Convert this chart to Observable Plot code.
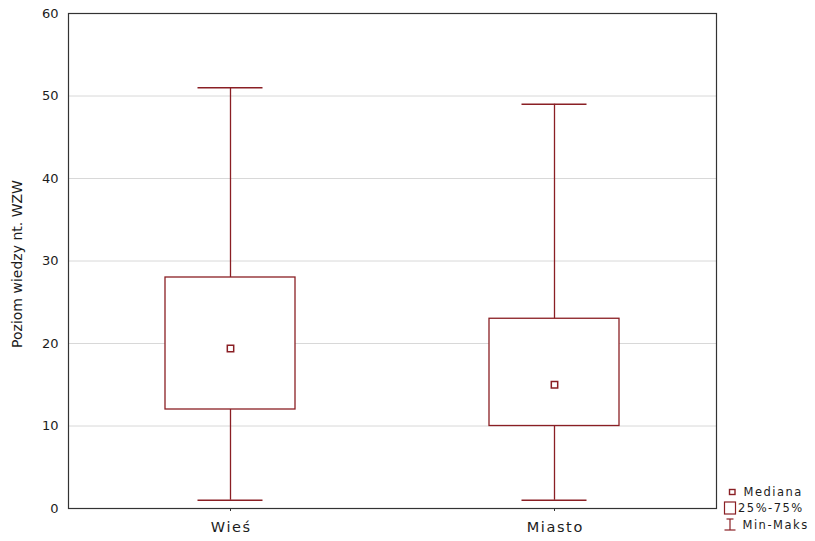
<!DOCTYPE html>
<html>
<head>
<meta charset="utf-8">
<script src="https://cdn.jsdelivr.net/npm/d3@7"></script>
<script src="https://cdn.jsdelivr.net/npm/@observablehq/plot@0.6"></script>
<style>
  html, body { margin: 0; padding: 0; background: #fff; }
  #wrap { position: relative; width: 815px; height: 541px; }
  #legend { position: absolute; left: 0; top: 0; pointer-events: none; }
</style>
</head>
<body>
<div id="wrap"></div>
<script>
const categories = ["Wieś", "Miasto"];
const minValues = [1, 1];
const q1Values = [12, 10];
const medianValues = [19.4, 15];
const q3Values = [28, 23];
const maxValues = [51, 49];
const yTicks = [0, 10, 20, 30, 40, 50, 60];
const yTitle = "Poziom wiedzy nt. WZW";
const legendLabels = ["Mediana", "25%-75%", "Min-Maks"];

const color = "#8a1f24";
const textColor = "#1c1c1c";
const font = "'DejaVu Sans', Verdana, sans-serif";

const data = categories.map((c, i) => ({
  cat: c, min: minValues[i], q1: q1Values[i], median: medianValues[i], q3: q3Values[i], max: maxValues[i]
}));
const caps = data.flatMap(d => [{cat: d.cat, v: d.min}, {cat: d.cat, v: d.max}]);

const chart = Plot.plot({
  width: 815,
  height: 541,
  marginLeft: 68,
  marginRight: 99,
  marginTop: 13,
  marginBottom: 33,
  style: {fontFamily: font, color: textColor, background: "#fff"},
  x: {type: "band", domain: categories, padding: 0, label: null},
  y: {domain: [0, 60], label: null},
  marks: [
    Plot.gridY(yTicks.filter(t => t > 0 && t < 60), {stroke: "#d8d8d8", strokeOpacity: 1, strokeWidth: 1}),
    Plot.ruleX(data, {x: "cat", y1: "min", y2: "max", stroke: color, strokeWidth: 1.3}),
    Plot.tickY(caps, {x: "cat", y: "v", stroke: color, strokeWidth: 1.3, insetLeft: 129.5, insetRight: 129.5}),
    Plot.barY(data, {x: "cat", y1: "q1", y2: "q3", fill: "white", stroke: color, strokeWidth: 1.3, insetLeft: 97, insetRight: 97}),
    Plot.dot(data, {x: "cat", y: "median", symbol: "square", r: 3.6, fill: "white", stroke: color, strokeWidth: 1.5}),
    Plot.frame({stroke: "#333", strokeWidth: 1.2}),
    Plot.axisY(yTicks, {tickSize: 0, tickPadding: 10, fontSize: 13, label: null, fill: textColor}),
    Plot.axisX({tickSize: 3, tickPadding: 10, fontSize: 14.5, label: null, fill: textColor, stroke: "#333"}),
    Plot.text([yTitle], {frameAnchor: "left", textAnchor: "middle", rotate: -90, dx: -51, dy: 3, fontSize: 14, fill: textColor})
  ]
});
d3.select(chart).selectAll('[aria-label="x-axis tick label"] text')
  .attr("letter-spacing", "1.6px").attr("dx", "0.8px");
document.getElementById("wrap").appendChild(chart);

// legend overlay
const ns = "http://www.w3.org/2000/svg";
const lg = document.createElementNS(ns, "svg");
lg.setAttribute("id", "legend");
lg.setAttribute("width", 815);
lg.setAttribute("height", 541);
lg.style.fontFamily = font;
const rows = [492, 508, 525];
function el(tag, attrs) {
  const e = document.createElementNS(ns, tag);
  for (const k in attrs) e.setAttribute(k, attrs[k]);
  lg.appendChild(e);
  return e;
}
// median icon
el("rect", {x: 729.5, y: rows[0] - 2.5, width: 5.5, height: 5, fill: "white", stroke: color, "stroke-width": 1.4});
// box icon
el("rect", {x: 724.5, y: rows[1] - 6, width: 11, height: 12, fill: "white", stroke: color, "stroke-width": 1.2});
// min-max icon
el("line", {x1: 730, x2: 730, y1: rows[2] - 6, y2: rows[2] + 5, stroke: color, "stroke-width": 1.2});
el("line", {x1: 726.5, x2: 733.5, y1: rows[2] - 6, y2: rows[2] - 6, stroke: color, "stroke-width": 1.2});
el("line", {x1: 724.5, x2: 735.5, y1: rows[2] + 5, y2: rows[2] + 5, stroke: color, "stroke-width": 1.2});
const tx = [743.5, 738, 742.5];
legendLabels.forEach((t, i) => {
  const e = el("text", {x: tx[i], y: rows[i], "font-size": 11.5, fill: textColor, "dominant-baseline": "central", "letter-spacing": "1.5px"});
  e.textContent = t;
});
document.getElementById("wrap").appendChild(lg);
</script>
</body>
</html>
